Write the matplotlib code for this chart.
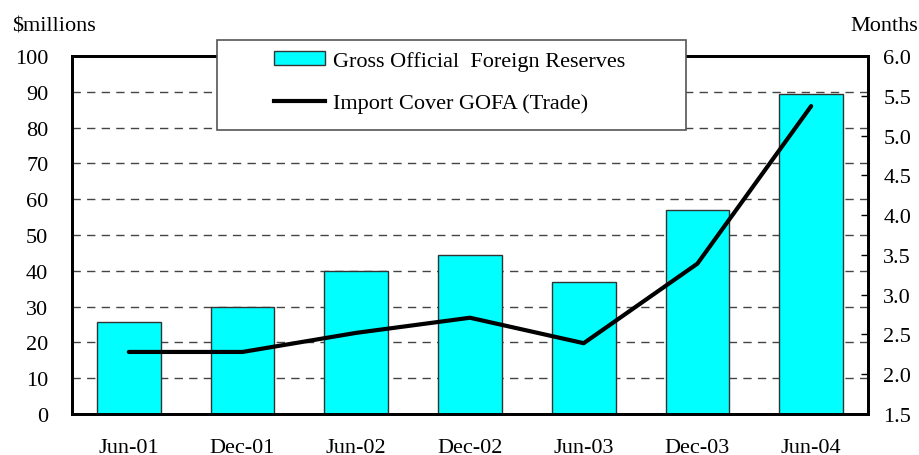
import numpy as np
import matplotlib.pyplot as plt
from matplotlib.patches import Patch, Rectangle
from matplotlib.lines import Line2D

categories = ["Jun-01", "Dec-01", "Jun-02", "Dec-02", "Jun-03", "Dec-03", "Jun-04"]
reserves = [25.7, 30.0, 40.0, 44.5, 36.9, 56.9, 89.4]
import_cover = [2.28, 2.28, 2.52, 2.71, 2.39, 3.39, 5.37]

plt.rcParams['font.family'] = ['Liberation Serif', 'DejaVu Serif']
plt.rcParams['font.size'] = 16

fig = plt.figure(figsize=(9.19, 4.56), dpi=100)
ax = fig.add_axes([0.0783, 0.0899, 0.8662, 0.7851])
x = np.arange(len(categories))

ax.bar(x, reserves, width=0.56, color='#00FFFF', edgecolor='#333333', linewidth=1, zorder=2)
ax.set_xlim(-0.5, len(categories) - 0.5)
ax.set_ylim(0, 100)
ax.set_yticks(np.arange(0, 101, 10))
ax.set_xticks(x)
ax.set_xticklabels(categories)
ax.tick_params(axis='x', length=0, pad=17)
ax.tick_params(axis='y', length=0, pad=17)
for v in range(10, 100, 10):
    ax.axhline(v, color='#444444', linewidth=1, dashes=(6, 4.5), zorder=1)
for s in ax.spines.values():
    s.set_linewidth(2)
    s.set_color('black')

ax2 = ax.twinx()
ax2.plot(x, import_cover, color='black', linewidth=3, solid_capstyle='round', zorder=3)
ax2.set_ylim(1.5, 6.0)
ax2.set_yticks(np.arange(1.5, 6.01, 0.5))
ax2.set_yticklabels([f"{v:.1f}" for v in np.arange(1.5, 6.01, 0.5)])
ax2.tick_params(axis='y', direction='in', length=5, width=1, pad=11)
for s in ax2.spines.values():
    s.set_linewidth(2)

fig.text(0.013, 0.931, "$millions", ha='left', va='baseline')
fig.text(0.999, 0.931, "Months", ha='right', va='baseline')

# legend box
box = Rectangle((0.236, 0.713), 0.51, 0.197, transform=fig.transFigure,
                facecolor='white', edgecolor='#555555', linewidth=1.2, zorder=9)
fig.add_artist(box)

handles = [Patch(facecolor='#00FFFF', edgecolor='#333333', label='Gross Official  Foreign Reserves'),
           Line2D([0], [0], color='black', linewidth=3, label='Import Cover GOFA (Trade)')]
leg = fig.legend(handles=handles, loc='center left', bbox_to_anchor=(0.298, 0.818),
                 frameon=False, handlelength=2.3, handleheight=0.55,
                 borderpad=0, labelspacing=1.0, handletextpad=0.36, borderaxespad=0)
leg.set_zorder(10)

fig.savefig("out.png", dpi=100)
